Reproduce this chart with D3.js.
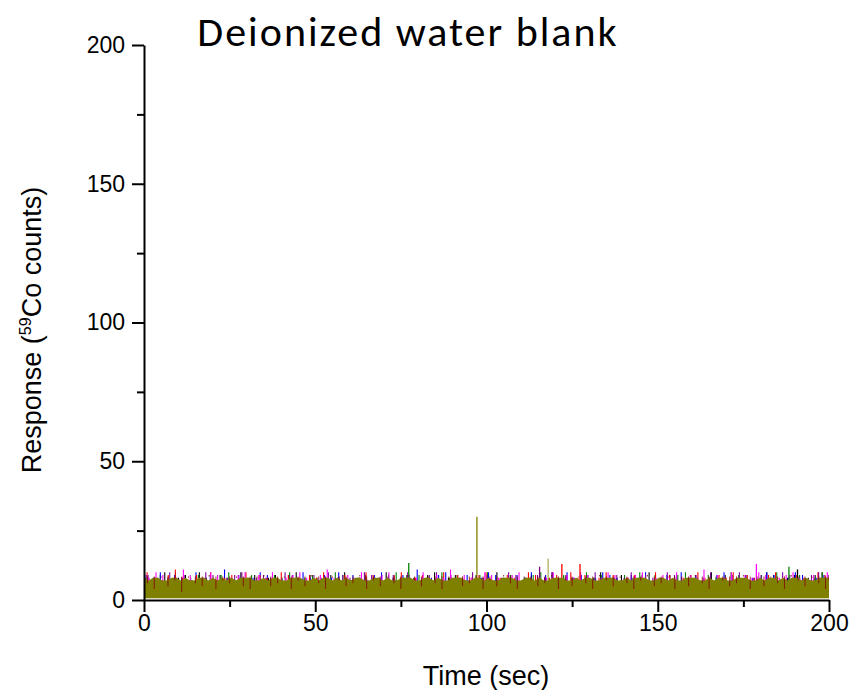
<!DOCTYPE html>
<html>
<head>
<meta charset="utf-8">
<script src="https://cdn.jsdelivr.net/npm/d3@7"></script>
<style>
  body { margin: 0; background: #fff; }
  svg { display: block; }
  .axis text { font-family: "Liberation Sans", Arial, sans-serif; font-size: 23px; fill: #000; }
  .axis path, .axis line { stroke: #000; stroke-width: 2; }
</style>
</head>
<body>
<svg width="852" height="690"></svg>
<script>
// tick values
var xTicks = [0, 50, 100, 150, 200];
var xMinor = [25, 75, 125, 175];
var yTicks = [0, 50, 100, 150, 200];
var yMinor = [25, 75, 125, 175];

// counts, evenly spaced over 0..200 s
var black = [9,7,8,10,7,8,9,7,10,8,7,9,8,7,10,8,9,7,8,9,7,8,10,7,9,8,7,9,8,10,7,8,9,7,8,10,8,7,9,8,7,9,10,7,8,9,8,7,9,8,7,10,8,9,7,8,9,7,8,10,7,9,8,7,9,8,10,7,8,9,7,8,9,10,7,8,9,8,7,9,8,7,10,8,9,7,8,9,7,8,10,9,7,8,9,7,8,9,10,7];
var red = [10,8,7,9,11,8,7,9,8,10,7,8,9,8,10,7,9,8,7,10,9,8,7,9,8,10,7,8,9,7,8,10,9,7,8,9,10,7,8,9,7,8,10,8,9,7,8,9,10,7,8,9,8,7,10,9,7,8,9,7,10,8,9,7,8,10,9,7,8,9,8,7,10,8,9,7,8,9,10,8,7,9,8,10,7,9,8,7,9,10,8,7,9,8,7,10,9,8];
var blue = [9,8,10,7,9,8,7,10,8,9,7,11,8,9,7,8,10,9,7,8,9,7,10,8,7,9,8,10,7,9,8,7,9,10,8,7,9,8,11,7,8,9,10,7,8,9,7,8,10,9,7,8,9,8,10,7,9,8,7,10,8,9,7,8,10,9,8,7,9,8,10,7,8,9,7,10,8,9,7,8,9,10,7,8,9,8,7,10,9,7,8,10,9,7,8,9,8];
var magenta = [8,10,9,7,8,11,9,7,8,10,9,7,8,9,10,7,9,8,10,7,8,9,10,8,7,9,11,8,7,9,8,10,7,8,9,10,7,8,9,8,10,7,9,8,11,7,9,8,7,10,9,8,7,9,10,8,7,9,8,10,7,9,8,10,9,7,8,10,9,7,8,9,10,7,8,9,8,10,7,9,8,11,7,9,8,10,7,9,8,10,9,7,8,9,10,8,7,9,8,10,9];
var green = [8,7,9,8,10,7,8,9,7,8,9,10,7,8,9,7,8,9,8,10,7,8,9,7,8,10,9,7,8,9,8,7,9,10,8,7,9,8,7,10,8,9,7,8,9,10,7,8,9,7,8,9,10,8,7,9,8,7,10,8,9,7,8,9,8,10,7,9,8,7,9,10,8,7,9,8,7,10,9,8,7,9,8,10,7,8,9,7,8,10,9];
var purple = [9,8,7,10,8,9,7,8,10,9,7,8,9,10,7,8,9,8,7,10,9,8,7,9,8,10,7,9,8,7,10,9,8,7,9,8,10,7,8,9,10,7,9,8,7,10,8,9,7,8,10,9,7,8,9,8,10,7,9,8,7,9,10,8,7,9,8,10,7,9,8,7,10,9,8,7,9,8,10,7,8,9,10,7,8,9,8,7,10,9,8,7,9,10,8,7];
// low points of the dark red trace inside the olive band
var wine = [6,4,8,5,7,3,8,6,5,9,4,7,6,8,5,4,7,9,5,6,8,4,7,5,9,6,4,8,7,5,6,9,4,7,5,8,6,4,9,7,5,8,6,4,7,9,5,6,8,4,7,5,9,6,4,8,7,5,6,9,4,7,5,8,6,4,9,7,5,8,6,4,7,9,5,6,8,4,7,5,9,6,4,8,7,5,6,9,4,7,5,8,6,4,9,7,5,8,6,4,7];
var olive = [8,7,8,8,7,7,8,8,7,8,7,7,8,8,7,8,7,8,7,8,7,8,8,8,7,7,8,7,8,8,7,7,8,8,8,7,7,8,7,8,8,7,8,7,8,7,8,8,7,7,8,8,7,8,7,7,8,8,8,7,7,8,8,7,8,7,7,8,8,8,7,7,8,8,7,8,7,7,8,8,8,7,7,8,8,7,8,7,7,8,8,8,7,7,8,7,8,8,7,7,8,8,8,7,7,8,7,8,8,8,7,7,8,8,7,8,7,7,8,8,8,7,7,8,7,8,8,7,7,8,8,8,7,7,8,7,8,8,7,8,7,8,8,7,8,7,7,8,8,8];

// isolated spikes
var spikeTimes  = [77.3, 97.2, 115.5, 118.0, 122.0, 127.3, 178.8, 188.3, 190.8];
var spikeValues = [13.3, 30, 12, 15, 13, 13, 13, 12, 11];
var spikeColors = ["#008000", "#808000", "#800080", "#b0b060", "#ff0000", "#ff0000", "#ff00ff", "#008000", "#000000"];

var stemSeries = [
  {values: black, color: "#000000"},
  {values: green, color: "#008000"},
  {values: blue, color: "#0000ff"},
  {values: red, color: "#ff0000"},
  {values: purple, color: "#8000a0"},
  {values: magenta, color: "#ff00ff"}
];

var svg = d3.select("svg");

var x = d3.scaleLinear().domain([0, 200]).range([144, 829]);
var y = d3.scaleLinear().domain([0, 200]).range([600, 45]);

function toPoints(vals, shift) {
  var step = 200 / (vals.length - 1);
  return vals.map(function (v, i) { return [Math.min(200, i * step + shift), v]; });
}

svg.append("clipPath").attr("id", "plot")
  .append("rect").attr("x", 144).attr("y", 45).attr("width", 685).attr("height", 555);

var plot = svg.append("g").attr("clip-path", "url(#plot)");

// dense traces drawn as hairlines above the olive band
stemSeries.forEach(function (s, k) {
  plot.append("g").selectAll("line")
    .data(toPoints(s.values, k * 0.3))
    .join("line")
    .attr("x1", function (d) { return x(d[0]); })
    .attr("x2", function (d) { return x(d[0]); })
    .attr("y1", y(6))
    .attr("y2", function (d) { return y(d[1]); })
    .attr("stroke", s.color)
    .attr("stroke-width", 1.1);
});

spikeTimes.forEach(function (t, i) {
  plot.append("line")
    .attr("x1", x(t)).attr("x2", x(t))
    .attr("y1", y(7)).attr("y2", y(spikeValues[i]))
    .attr("stroke", spikeColors[i])
    .attr("stroke-width", 1.3);
});

// olive series covers the band
var area = d3.area()
  .x(function (d) { return x(d[0]); })
  .y0(y(0.6))
  .y1(function (d) { return y(d[1]); });

plot.append("path")
  .attr("d", area(toPoints(olive, 0)))
  .attr("fill", "#808000");

plot.append("g").selectAll("line")
  .data(toPoints(wine, 1))
  .join("line")
  .attr("x1", function (d) { return x(d[0]); })
  .attr("x2", function (d) { return x(d[0]); })
  .attr("y1", function (d) { return y(d[1]); })
  .attr("y2", y(8.5))
  .attr("stroke", "#800000")
  .attr("stroke-opacity", 0.75)
  .attr("stroke-width", 1.1);

// axes
svg.append("g").attr("class", "axis")
  .attr("transform", "translate(0,600)")
  .call(d3.axisBottom(x).tickValues(xTicks).tickSize(12).tickPadding(3).tickSizeOuter(0));
svg.append("g").attr("class", "axis")
  .attr("transform", "translate(0,600)")
  .call(d3.axisBottom(x).tickValues(xMinor).tickSize(7).tickFormat("").tickSizeOuter(0))
  .select(".domain").remove();

svg.append("g").attr("class", "axis")
  .attr("transform", "translate(144,0)")
  .call(d3.axisLeft(y).tickValues(yTicks).tickSize(12).tickPadding(7).tickSizeOuter(0));
svg.append("g").attr("class", "axis")
  .attr("transform", "translate(144,0)")
  .call(d3.axisLeft(y).tickValues(yMinor).tickSize(7).tickFormat("").tickSizeOuter(0))
  .select(".domain").remove();

// titles
svg.append("text")
  .attr("x", 408).attr("y", 46)
  .attr("text-anchor", "middle")
  .style("font-family", "Carlito, Calibri, 'Open Sans', sans-serif")
  .style("font-size", "42px")
  .style("letter-spacing", "2px")
  .text("Deionized water blank");

svg.append("text")
  .attr("x", 486).attr("y", 685)
  .attr("text-anchor", "middle")
  .style("font-family", "'Liberation Sans', Arial, sans-serif")
  .style("font-size", "27px")
  .text("Time (sec)");

var yl = svg.append("text")
  .attr("transform", "translate(41,330) rotate(-90)")
  .attr("text-anchor", "middle")
  .style("font-family", "'Liberation Sans', Arial, sans-serif")
  .style("font-size", "27px");
yl.append("tspan").text("Response (");
yl.append("tspan").attr("dy", -10).style("font-size", "16px").text("59");
yl.append("tspan").attr("dy", 10).text("Co counts)");
</script>
</body>
</html>
